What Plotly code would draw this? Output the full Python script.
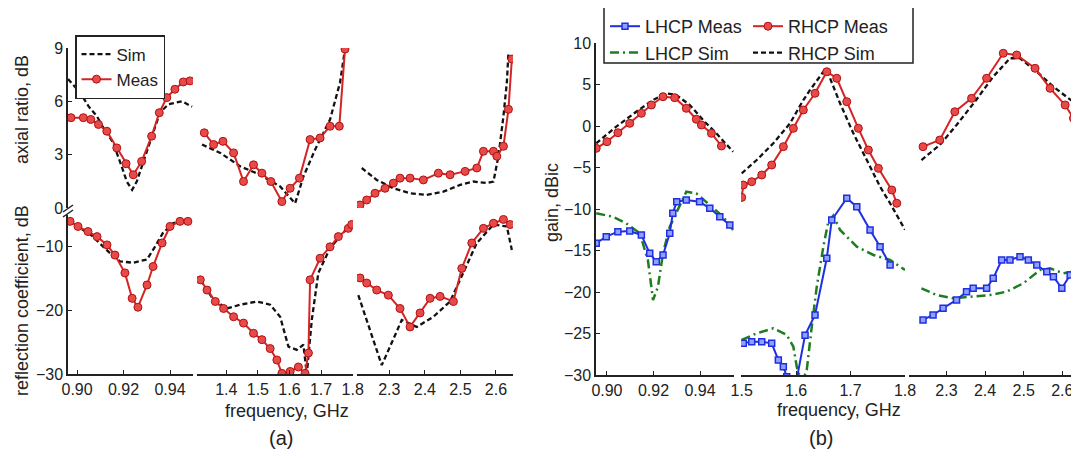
import plotly.graph_objects as go

# the page body keeps an 8 px default margin, so the figure is placed 8 px in
OFF = 8
W, H = 1079 - OFF, 458 - OFF

# ---------------- Panel (a): axial ratio (dB) ----------------
ar_sim_f1 = [0.8961, 0.9013, 0.9049, 0.9086, 0.9113, 0.9155, 0.9192, 0.9214, 0.9237, 0.9257, 0.9284, 0.9321, 0.9357, 0.9393, 0.9452, 0.9495]
ar_sim_v1 = [7.25, 6.49, 5.73, 5.15, 4.51, 3.68, 2.34, 1.49, 1.02, 1.49, 2.55, 4.04, 5.37, 5.83, 6.0, 5.7]
ar_meas_f1 = [0.8974, 0.9027, 0.9059, 0.9092, 0.9128, 0.9171, 0.9211, 0.9242, 0.9278, 0.9321, 0.9354, 0.9386, 0.9421, 0.9457, 0.9486]
ar_meas_v1 = [5.08, 5.08, 4.98, 4.70, 4.32, 3.38, 2.49, 1.87, 2.62, 4.04, 5.36, 6.21, 6.68, 7.09, 7.15]

ar_sim_f2 = [1.3233, 1.3811, 1.4442, 1.5074, 1.5705, 1.6179, 1.6441, 1.681, 1.7284, 1.76, 1.7757]
ar_sim_v2 = [3.57, 3.10, 2.34, 1.87, 1.21, 0.26, 1.77, 3.28, 4.98, 7.06, 8.94]
ar_meas_f2 = [1.3305, 1.3599, 1.3896, 1.4231, 1.4546, 1.4862, 1.5127, 1.5411, 1.5759, 1.6021, 1.6315, 1.6652, 1.6968, 1.7284, 1.7577, 1.7757]
ar_meas_v2 = [4.23, 3.57, 3.75, 3.10, 1.49, 2.43, 1.96, 1.49, 0.36, 1.11, 1.68, 3.85, 3.94, 4.60, 4.60, 8.94]

ar_sim_f3 = [2.2223, 2.2645, 2.3113, 2.3583, 2.4054, 2.4521, 2.4992, 2.5366, 2.5744, 2.593, 2.607, 2.6211, 2.6307, 2.6352]
ar_sim_v3 = [2.25, 1.58, 1.11, 0.83, 0.74, 0.92, 1.30, 1.49, 1.40, 1.49, 2.91, 5.17, 7.06, 8.75]
ar_meas_f3 = [2.2175, 2.2363, 2.2597, 2.2879, 2.3113, 2.3301, 2.3583, 2.3958, 2.438, 2.471, 2.5132, 2.5462, 2.5648, 2.593, 2.6025, 2.6211, 2.6352, 2.6448]
ar_meas_v3 = [0.17, 0.45, 0.83, 1.11, 1.40, 1.68, 1.68, 1.58, 1.96, 1.87, 2.06, 2.25, 3.19, 3.19, 2.91, 3.47, 5.55, 8.38]

# ---------------- Panel (a): reflection coefficient (dB) ----------------
rc_sim_f1 = [0.8961, 0.9056, 0.9142, 0.9185, 0.9241, 0.9301, 0.9335, 0.937, 0.9413, 0.9473]
rc_sim_v1 = [-6.0, -8.0, -11.0, -12.3, -12.5, -12.0, -10.0, -7.8, -6.3, -5.7]
rc_meas_f1 = [0.897, 0.9004, 0.9047, 0.9086, 0.9129, 0.9163, 0.9206, 0.9237, 0.9262, 0.9301, 0.9327, 0.9366, 0.94, 0.9443, 0.9477]
rc_meas_v1 = [-6.0, -6.8, -7.6, -8.4, -9.7, -11.3, -14.1, -18.1, -19.5, -16.0, -13.1, -9.4, -6.8, -6.0, -6.0]

rc_sim_f2 = [1.3179, 1.359, 1.4022, 1.4442, 1.4969, 1.5389, 1.5705, 1.5967, 1.6232, 1.6441, 1.6548, 1.6706, 1.6914, 1.7284, 1.76, 1.7916]
rc_sim_v2 = [-15.2, -18.3, -19.7, -19.1, -18.6, -19.1, -21.0, -25.7, -26.2, -25.4, -30.0, -21.5, -14.1, -10.2, -8.4, -6.5]
rc_meas_f2 = [1.3179, 1.3391, 1.3653, 1.3915, 1.4231, 1.4546, 1.4862, 1.5127, 1.5389, 1.5601, 1.5759, 1.6021, 1.6283, 1.6494, 1.6599, 1.6652, 1.6968, 1.7284, 1.7546, 1.7862, 1.7969]
rc_meas_v2 = [-15.2, -16.8, -18.6, -19.7, -21.0, -22.0, -23.6, -24.6, -26.0, -27.8, -29.9, -29.6, -28.9, -29.9, -26.7, -15.2, -11.8, -10.0, -8.4, -7.1, -6.5]

rc_sim_f3 = [2.2127, 2.2456, 2.2786, 2.302, 2.3349, 2.3772, 2.4239, 2.471, 2.5085, 2.5462, 2.593, 2.6307, 2.6448]
rc_sim_v3 = [-17.6, -23.1, -28.6, -25.7, -21.5, -22.6, -21.0, -18.6, -14.1, -9.4, -6.5, -6.8, -10.5]
rc_meas_f3 = [2.2175, 2.2363, 2.2645, 2.2972, 2.3301, 2.3583, 2.3865, 2.4146, 2.4428, 2.4803, 2.5039, 2.5321, 2.5648, 2.593, 2.6211, 2.64]
rc_meas_v3 = [-14.9, -15.7, -16.8, -17.6, -19.7, -22.6, -20.4, -18.1, -17.8, -18.6, -13.4, -9.4, -7.1, -6.3, -5.7, -6.5]

# ---------------- Panel (b): gain (dBic) ----------------
rm_f1 = [0.8954, 0.9, 0.9047, 0.9098, 0.9148, 0.9191, 0.9241, 0.9291, 0.9341, 0.9384, 0.9406, 0.9449, 0.9492]
rm_v1 = [-2.69, -1.89, -0.81, 0.32, 1.53, 2.53, 3.53, 3.41, 2.13, 0.81, 0.12, -0.88, -2.41]
rs_f1 = [0.8954, 0.904, 0.9126, 0.9198, 0.9255, 0.9298, 0.9356, 0.9413, 0.947, 0.9542]
rs_v1 = [-2.08, -0.08, 1.72, 3.13, 3.94, 3.73, 2.53, 0.72, -0.88, -3.10]
lm_f1 = [0.8954, 0.8997, 0.9047, 0.9098, 0.9148, 0.9184, 0.9212, 0.9241, 0.927, 0.9283, 0.93, 0.9341, 0.9398, 0.9442, 0.9485, 0.9528]
lm_v1 = [-14.13, -13.33, -12.73, -12.65, -13.13, -15.34, -16.35, -15.54, -12.93, -10.5, -9.12, -8.92, -9.12, -9.92, -10.93, -11.93]
ls_f1 = [0.8954, 0.9026, 0.9083, 0.9141, 0.9176, 0.9198, 0.9219, 0.9241, 0.927, 0.9298, 0.9341, 0.9384, 0.9442, 0.9499, 0.9542]
ls_v1 = [-10.52, -10.93, -11.73, -12.93, -16.14, -20.96, -19.4, -15.34, -12.13, -10.52, -7.92, -8.11, -9.52, -10.93, -12.53]

rm_f2 = [1.5, 1.5029, 1.5184, 1.5368, 1.5551, 1.5765, 1.5949, 1.6132, 1.6347, 1.6563, 1.6746, 1.693, 1.7143, 1.7327, 1.7511, 1.7757, 1.7849]
rm_v2 = [-8.6, -7.11, -6.71, -5.90, -4.70, -2.49, -0.28, 1.93, 3.94, 6.54, 5.75, 2.93, -0.28, -2.89, -5.10, -7.71, -9.31]
rs_f2 = [1.5, 1.5276, 1.5581, 1.5888, 1.6132, 1.6256, 1.65, 1.6563, 1.6807, 1.7051, 1.7298, 1.7542, 1.7726, 1.7941, 1.8]
rs_v2 = [-5.7, -4.10, -2.08, 0.32, 3.13, 4.34, 6.54, 6.75, 2.73, -0.88, -4.10, -7.31, -9.31, -11.72, -12.5]
lm_f2 = [1.5029, 1.5184, 1.5368, 1.5551, 1.5673, 1.5765, 1.5827, 1.6011, 1.6164, 1.6347, 1.6563, 1.6654, 1.693, 1.7114, 1.7358, 1.7542, 1.7726]
lm_v2 = [-26.18, -25.98, -25.98, -26.18, -28.19, -29.0, -30.2, -30.5, -25.2, -22.77, -15.94, -11.33, -8.71, -9.72, -12.53, -14.54, -16.75]
ls_f2 = [1.5, 1.5276, 1.5581, 1.5827, 1.5949, 1.6011, 1.6103, 1.6195, 1.6287, 1.6379, 1.65, 1.6592, 1.6684, 1.6807, 1.7114, 1.7419, 1.7726, 1.8]
ls_v2 = [-25.78, -24.98, -24.37, -25.18, -26.59, -29.0, -31.0, -29.4, -24.18, -19.36, -14.54, -11.5, -10.8, -12.53, -14.54, -15.54, -16.14, -17.35]

rm_f3 = [2.2392, 2.2826, 2.3216, 2.3649, 2.4039, 2.447, 2.4818, 2.5294, 2.5683, 2.6073, 2.6288]
rm_v3 = [-2.49, -1.69, 1.72, 3.33, 5.75, 8.76, 8.55, 6.95, 4.54, 2.53, 0.93]
rs_f3 = [2.2351, 2.2826, 2.326, 2.3735, 2.421, 2.4644, 2.4904, 2.5338, 2.5769, 2.6203, 2.6332]
rs_v3 = [-4.10, -2.29, 0.12, 2.93, 5.94, 8.16, 8.16, 6.54, 4.73, 3.13, 2.73]
lm_f3 = [2.2392, 2.2652, 2.2912, 2.326, 2.3519, 2.3691, 2.4039, 2.421, 2.4429, 2.4644, 2.4904, 2.5119, 2.5338, 2.5597, 2.5769, 2.5987, 2.6203]
lm_v3 = [-23.37, -22.77, -21.96, -20.96, -19.96, -19.55, -19.55, -18.35, -16.14, -16.14, -15.74, -16.14, -16.75, -17.55, -18.15, -19.55, -17.95]
ls_f3 = [2.2351, 2.274, 2.3171, 2.3605, 2.4125, 2.4558, 2.499, 2.5423, 2.5683, 2.6029, 2.6288]
ls_v3 = [-19.55, -20.36, -20.76, -20.56, -20.36, -19.96, -18.95, -17.35, -17.15, -17.75, -17.55]

# tick labels
ticks_lo = [0.90, 0.92, 0.94]
ticks_mid_a = [1.4, 1.5, 1.6, 1.7, 1.8]
ticks_mid_b = [1.5, 1.6, 1.7, 1.8]
ticks_hi = [2.3, 2.4, 2.5, 2.6]
ticks_ar = [0, 3, 6, 9]
ticks_rc = [-30, -20, -10]
ticks_gain = [-30, -25, -20, -15, -10, -5, 0, 5, 10]

# ---------------- styles ----------------
RED = "#d42424"
BLUE = "#1f2fe0"
GREEN = "#1e7d1e"
BLACK = "#111111"
FONT = "Liberation Sans, Arial, sans-serif"

sim_line = dict(color=BLACK, width=2.3, dash="5px,3px")
meas_line = dict(color=RED, width=2)
meas_marker = dict(symbol="circle", size=8, color="#e84a4a", line=dict(color="#b01010", width=1))
lhcp_line = dict(color=BLUE, width=2)
lhcp_marker = dict(symbol="square", size=6, color="#8fa0ff", line=dict(color=BLUE, width=1.5))
lsim_line = dict(color=GREEN, width=2.5, dash="9px,4px,2px,4px")

fig = go.Figure()


def px_x(p):
    return (p - OFF) / W


def px_y(p):
    return 1 - (p - OFF) / H


def add(xs, ys, xa, ya, name, line, marker=None, show=False, legend="legend", rank=1):
    fig.add_trace(go.Scatter(
        x=xs, y=ys, xaxis=xa, yaxis=ya, name=name,
        mode="lines+markers" if marker else "lines",
        line=line, marker=marker, showlegend=show, legend=legend,
        legendrank=rank, cliponaxis=True))


# Panel (a)
ar_sets = [(ar_sim_f1, ar_sim_v1, ar_meas_f1, ar_meas_v1, "x"),
           (ar_sim_f2, ar_sim_v2, ar_meas_f2, ar_meas_v2, "x2"),
           (ar_sim_f3, ar_sim_v3, ar_meas_f3, ar_meas_v3, "x3")]
rc_sets = [(rc_sim_f1, rc_sim_v1, rc_meas_f1, rc_meas_v1, "x"),
           (rc_sim_f2, rc_sim_v2, rc_meas_f2, rc_meas_v2, "x2"),
           (rc_sim_f3, rc_sim_v3, rc_meas_f3, rc_meas_v3, "x3")]
for i, (sf, sv, mf, mv, xa) in enumerate(ar_sets):
    add(sf, sv, xa, "y", "Sim", sim_line, show=(i == 0), rank=1)
    add(mf, mv, xa, "y", "Meas", meas_line, meas_marker, show=(i == 0), rank=2)
for sf, sv, mf, mv, xa in rc_sets:
    add(sf, sv, xa, "y2", "Sim", sim_line)
    add(mf, mv, xa, "y2", "Meas", meas_line, meas_marker)

# Panel (b)
b_sets = [(lm_f1, lm_v1, rm_f1, rm_v1, ls_f1, ls_v1, rs_f1, rs_v1, "x4"),
          (lm_f2, lm_v2, rm_f2, rm_v2, ls_f2, ls_v2, rs_f2, rs_v2, "x5"),
          (lm_f3, lm_v3, rm_f3, rm_v3, ls_f3, ls_v3, rs_f3, rs_v3, "x6")]
for i, (lmf, lmv, rmf, rmv, lsf, lsv, rsf, rsv, xa) in enumerate(b_sets):
    s = (i == 0)
    add(lsf, lsv, xa, "y3", "LHCP Sim", lsim_line, show=s, legend="legend2", rank=2)
    add(rsf, rsv, xa, "y3", "RHCP Sim", sim_line, show=s, legend="legend3", rank=2)
    add(rmf, rmv, xa, "y3", "RHCP Meas", meas_line, meas_marker, show=s, legend="legend3", rank=1)
    add(lmf, lmv, xa, "y3", "LHCP Meas", lhcp_line, lhcp_marker, show=s, legend="legend2", rank=1)

tickfont = dict(family=FONT, size=16, color="#222")
common = dict(showline=True, linecolor="#222", linewidth=1.5, ticks="inside", ticklen=4,
              tickcolor="#222", showgrid=False, zeroline=False, tickfont=tickfont, fixedrange=True,
              automargin=False)
common_x = dict(common, tickangle=0)

fig.update_layout(
    width=W, height=H, autosize=False,
    margin=dict(l=0, r=0, t=0, b=0, autoexpand=False),
    paper_bgcolor="white", plot_bgcolor="white",
    font=dict(family=FONT, size=16, color="#222"),
    xaxis=dict(domain=[px_x(68), px_x(193)], range=[0.8961, 0.9499], anchor="y2",
               tickvals=ticks_lo, ticktext=[f"{t:.2f}" for t in ticks_lo], **common_x),
    xaxis2=dict(domain=[px_x(197), px_x(353)], range=[1.3074, 1.801], anchor="y2",
                tickvals=ticks_mid_a, ticktext=[f"{t:.1f}" for t in ticks_mid_a], **common_x),
    xaxis3=dict(domain=[px_x(357), px_x(513)], range=[2.209, 2.648], anchor="y2",
                tickvals=ticks_hi, ticktext=[f"{t:.1f}" for t in ticks_hi], **common_x),
    xaxis4=dict(domain=[px_x(596), px_x(734)], range=[0.8953, 0.9546], anchor="y3",
                tickvals=ticks_lo, ticktext=[f"{t:.2f}" for t in ticks_lo], **common_x),
    xaxis5=dict(domain=[px_x(741), px_x(905)], range=[1.4987, 1.8], anchor="y3",
                tickvals=ticks_mid_b, ticktext=[f"{t:.1f}" for t in ticks_mid_b], **common_x),
    xaxis6=dict(domain=[px_x(909), px_x(1077)], range=[2.2029, 2.638], anchor="y3",
                tickvals=ticks_hi, ticktext=[f"{t:.1f}" for t in ticks_hi], **common_x),
    yaxis=dict(domain=[px_y(208), px_y(48)], range=[0, 9], anchor="x", tickvals=ticks_ar, **common),
    yaxis2=dict(domain=[px_y(374), px_y(215)], range=[-30, -5], anchor="x", tickvals=ticks_rc, **common),
    yaxis3=dict(domain=[px_y(375), px_y(43)], range=[-30, 10], anchor="x4", tickvals=ticks_gain, **common),
    legend=dict(x=px_x(75), y=px_y(35), xanchor="left", yanchor="top",
                bordercolor="#222", borderwidth=1.5, bgcolor="white",
                font=dict(family=FONT, size=17, color="#222"), tracegroupgap=0),
    legend2=dict(x=px_x(605), y=px_y(8), xanchor="left", yanchor="top",
                 borderwidth=0, bgcolor="rgba(0,0,0,0)",
                 font=dict(family=FONT, size=18, color="#222"), tracegroupgap=0),
    legend3=dict(x=px_x(748), y=px_y(8), xanchor="left", yanchor="top",
                 borderwidth=0, bgcolor="rgba(0,0,0,0)",
                 font=dict(family=FONT, size=18, color="#222"), tracegroupgap=0),
)

# box around the panel (b) legend
fig.add_shape(type="rect", xref="paper", yref="paper",
              x0=px_x(604), y0=px_y(63), x1=px_x(913), y1=px_y(7),
              line=dict(color="#222", width=1.5), fillcolor="rgba(0,0,0,0)")

ann_font = dict(family=FONT, size=18, color="#222")
annotations = [
    dict(text="axial ratio, dB", x=px_x(22), y=px_y(110), textangle=-90),
    dict(text="reflection coefficient, dB", x=px_x(22), y=px_y(301), textangle=-90),
    dict(text="gain, dBic", x=px_x(552), y=px_y(203), textangle=-90),
    dict(text="frequency, GHz", x=px_x(287), y=px_y(411)),
    dict(text="frequency, GHz", x=px_x(839), y=px_y(410)),
    dict(text="(a)", x=px_x(281), y=px_y(438), font=dict(family=FONT, size=20, color="#222")),
    dict(text="(b)", x=px_x(821), y=px_y(438), font=dict(family=FONT, size=20, color="#222")),
]
for a in annotations:
    a.setdefault("font", ann_font)
    fig.add_annotation(xref="paper", yref="paper", showarrow=False,
                       xanchor="center", yanchor="middle", **a)

# axis-break marks on the left axis of panel (a)
for dy in (0, 5):
    fig.add_shape(type="line", xref="paper", yref="paper",
                  x0=px_x(63), y0=px_y(212 + dy), x1=px_x(73), y1=px_y(205 + dy),
                  line=dict(color="#222", width=1.5))

fig.write_html("out.html")
